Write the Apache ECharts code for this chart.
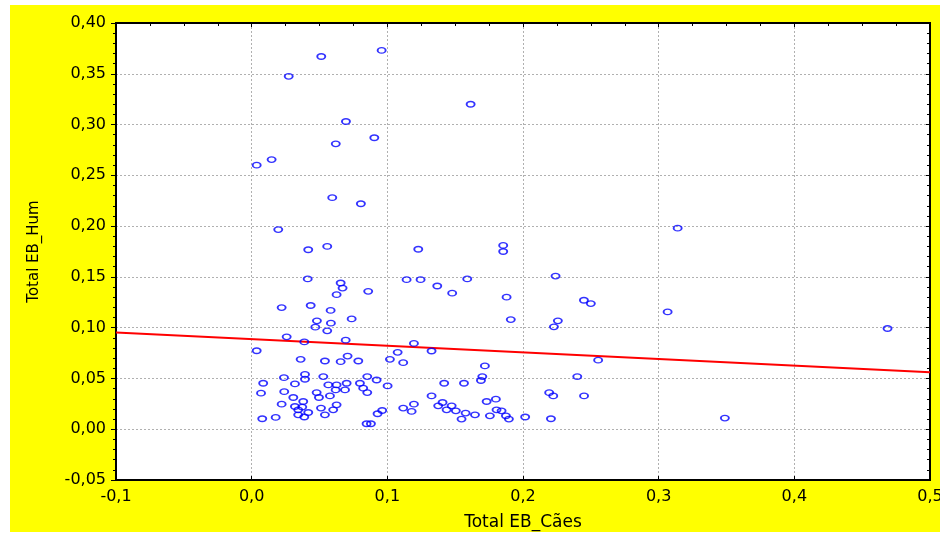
<!DOCTYPE html>
<html>
<head>
<meta charset="utf-8">
<script src="https://cdn.jsdelivr.net/npm/echarts@6/dist/echarts.min.js"></script>
<style>
  html, body { margin: 0; padding: 0; background: #ffffff; }
  #frame { position: absolute; left: 10px; top: 5px; width: 930px; height: 527px; background: #ffff00; }
  #chart { width: 930px; height: 527px; }
</style>
</head>
<body>
<div id="frame"><div id="chart"></div></div>
<script>
// Total EB_Cães (x) and Total EB_Hum (y)
const caes = [
  0.0513, 0.0958, 0.0273, 0.0695, 0.0620, 0.0904, 0.0037, 0.0147, 0.0594, 0.0805, 0.0196,
  0.1614, 0.3140, 0.1228, 0.0417, 0.0557, 0.0413, 0.0656, 0.0670, 0.0626, 0.0859,
  0.0221, 0.0435, 0.0582, 0.0737, 0.0481, 0.0584, 0.0469, 0.0557,
  0.1854, 0.1854, 0.1142, 0.1245, 0.1368, 0.1478, 0.1589, 0.1879, 0.1910, 0.2240, 0.2228, 0.2257,
  0.2449, 0.2500, 0.3066, 0.2554, 0.2400, 0.2193, 0.2223, 0.2450, 0.2206, 0.3488, 0.4687,
  0.1196, 0.1326, 0.1117, 0.1719, 0.1700, 0.1690, 0.1419, 0.1565, 0.1326, 0.1732, 0.1800,
  0.1196, 0.1117, 0.1179, 0.1375, 0.1407, 0.1474, 0.1437, 0.1505, 0.1577, 0.1547, 0.1646,
  0.1756, 0.1805, 0.1842, 0.1874, 0.1896, 0.2016,
  0.0258, 0.0388, 0.0693, 0.0037, 0.0361, 0.0540, 0.0656, 0.0707, 0.0786, 0.1019, 0.1076,
  0.0393, 0.0393, 0.0528, 0.0085, 0.0238, 0.0319, 0.0069, 0.0240, 0.0307, 0.0221, 0.0380,
  0.0479, 0.0496, 0.0565, 0.0626, 0.0700, 0.0619, 0.0577, 0.0688, 0.0798, 0.0822, 0.0852,
  0.0852, 0.0921, 0.1002, 0.0319, 0.0343, 0.0373, 0.0343, 0.0388, 0.0417, 0.0511, 0.0540,
  0.0601, 0.0626, 0.0078, 0.0177, 0.0847, 0.0879, 0.0928, 0.0962
];
const hum = [
  0.367, 0.373, 0.3475, 0.303, 0.281, 0.287, 0.260, 0.2655, 0.228, 0.222, 0.1966,
  0.320, 0.198, 0.1772, 0.1767, 0.180, 0.148, 0.144, 0.139, 0.1325, 0.1358,
  0.1198, 0.1218, 0.117, 0.1086, 0.1067, 0.1044, 0.1005, 0.0969,
  0.181, 0.175, 0.1473, 0.1473, 0.141, 0.134, 0.148, 0.130, 0.108, 0.1508, 0.1008, 0.1067,
  0.127, 0.1237, 0.1155, 0.068, 0.0518, 0.036, 0.0328, 0.0328, 0.0103, 0.011, 0.0992,
  0.0845, 0.077, 0.0655, 0.0623, 0.0518, 0.048, 0.0453, 0.0453, 0.0328, 0.0273, 0.0296,
  0.0247, 0.0208, 0.0175, 0.023, 0.0263, 0.023, 0.0191, 0.0181, 0.0159, 0.010, 0.0142,
  0.0132, 0.0191, 0.0181, 0.0132, 0.010, 0.012,
  0.091, 0.086, 0.0877, 0.0773, 0.0688, 0.0672, 0.0665, 0.072, 0.0672, 0.0688, 0.0757,
  0.054, 0.0492, 0.0518, 0.0453, 0.0508, 0.0446, 0.0355, 0.037, 0.0312, 0.0247, 0.0273,
  0.0361, 0.0312, 0.0436, 0.0436, 0.0453, 0.0387, 0.0328, 0.0387, 0.0453, 0.0404, 0.0361,
  0.0518, 0.0485, 0.0426, 0.0224, 0.0191, 0.0218, 0.0142, 0.012, 0.0165, 0.0208, 0.0142,
  0.0191, 0.024, 0.0103, 0.0116, 0.0054, 0.0054, 0.0152, 0.0184
];
// fitted regression line end points
const fitX = [-0.1, 0.5];
const fitY = [0.0953, 0.0561];
const xTicks = [-0.1, 0.0, 0.1, 0.2, 0.3, 0.4, 0.5];
const yTicks = [-0.05, 0.0, 0.05, 0.10, 0.15, 0.20, 0.25, 0.30, 0.35, 0.40];

const points = caes.map((v, i) => [v, hum[i]]);
const fitLine = fitX.map((v, i) => [v, fitY[i]]);

const chart = echarts.init(document.getElementById('chart'), null, { renderer: 'canvas' });
const fam = 'DejaVu Sans, Liberation Sans, Arial, sans-serif';
const labelFont = { color: '#000', fontFamily: fam, fontSize: 16 };
const gridLine = { show: true, lineStyle: { color: '#b0b0b0', type: [2, 2], width: 1 } };

chart.setOption({
  animation: false,
  backgroundColor: 'transparent',
  grid: {
    left: 106, top: 18, right: 10, bottom: 52,
    outerBoundsMode: 'none', containLabel: false,
    show: true, backgroundColor: '#ffffff', borderColor: '#000', borderWidth: 2
  },
  xAxis: [{
    type: 'value', min: xTicks[0], max: xTicks[xTicks.length - 1], interval: 0.1,
    position: 'bottom',
    name: 'Total EB_Cães', nameLocation: 'middle', nameGap: 34,
    nameTextStyle: { color: '#000', fontFamily: fam, fontSize: 17 },
    axisLine: { show: true, onZero: false, lineStyle: { color: '#000', width: 2 } },
    axisTick: { show: true, inside: true, length: 4, lineStyle: { color: '#000' } },
    axisLabel: Object.assign({}, labelFont, { margin: 9, formatter: v => v.toFixed(1).replace('.', ',') }),
    splitLine: gridLine
  }, {
    type: 'value', min: xTicks[0], max: xTicks[xTicks.length - 1], interval: 0.1,
    position: 'top',
    axisLine: { show: true, onZero: false, lineStyle: { color: '#000', width: 2 } },
    axisTick: { show: true, inside: true, length: 4, lineStyle: { color: '#000' } },
    minorTick: { show: true, splitNumber: 4, length: 3, lineStyle: { color: '#000' } },
    axisLabel: { show: false },
    splitLine: { show: false }
  }],
  yAxis: [{
    type: 'value', min: yTicks[0], max: yTicks[yTicks.length - 1], interval: 0.05,
    position: 'left',
    name: 'Total EB_Hum', nameLocation: 'middle', nameGap: 74, nameRotate: 90,
    nameTextStyle: { color: '#000', fontFamily: fam, fontSize: 15 },
    axisLine: { show: true, onZero: false, lineStyle: { color: '#000', width: 2 } },
    axisTick: { show: true, inside: false, length: 5, lineStyle: { color: '#000' } },
    minorTick: { show: true, splitNumber: 5, length: 3, lineStyle: { color: '#000' } },
    axisLabel: Object.assign({}, labelFont, { margin: 10, formatter: v => v.toFixed(2).replace('.', ',') }),
    splitLine: gridLine
  }, {
    type: 'value', min: yTicks[0], max: yTicks[yTicks.length - 1], interval: 0.05,
    position: 'right',
    axisLine: { show: true, onZero: false, lineStyle: { color: '#000', width: 2 } },
    axisTick: { show: true, inside: true, length: 4, lineStyle: { color: '#000' } },
    minorTick: { show: true, splitNumber: 5, length: 3, lineStyle: { color: '#000' } },
    axisLabel: { show: false },
    splitLine: { show: false }
  }],
  series: [{
    type: 'scatter',
    data: points,
    symbol: 'path://M0,5A5,5 0 1,0 10,5A5,5 0 1,0 0,5Z',
    symbolKeepAspect: false,
    symbolSize: [8, 5.5],
    itemStyle: { color: 'transparent', borderColor: '#0000ff', borderWidth: 1.6 },
    z: 3
  }, {
    type: 'line',
    data: fitLine,
    symbol: 'none',
    lineStyle: { color: '#ff0000', width: 2 },
    z: 2
  }]
});
</script>
</body>
</html>
